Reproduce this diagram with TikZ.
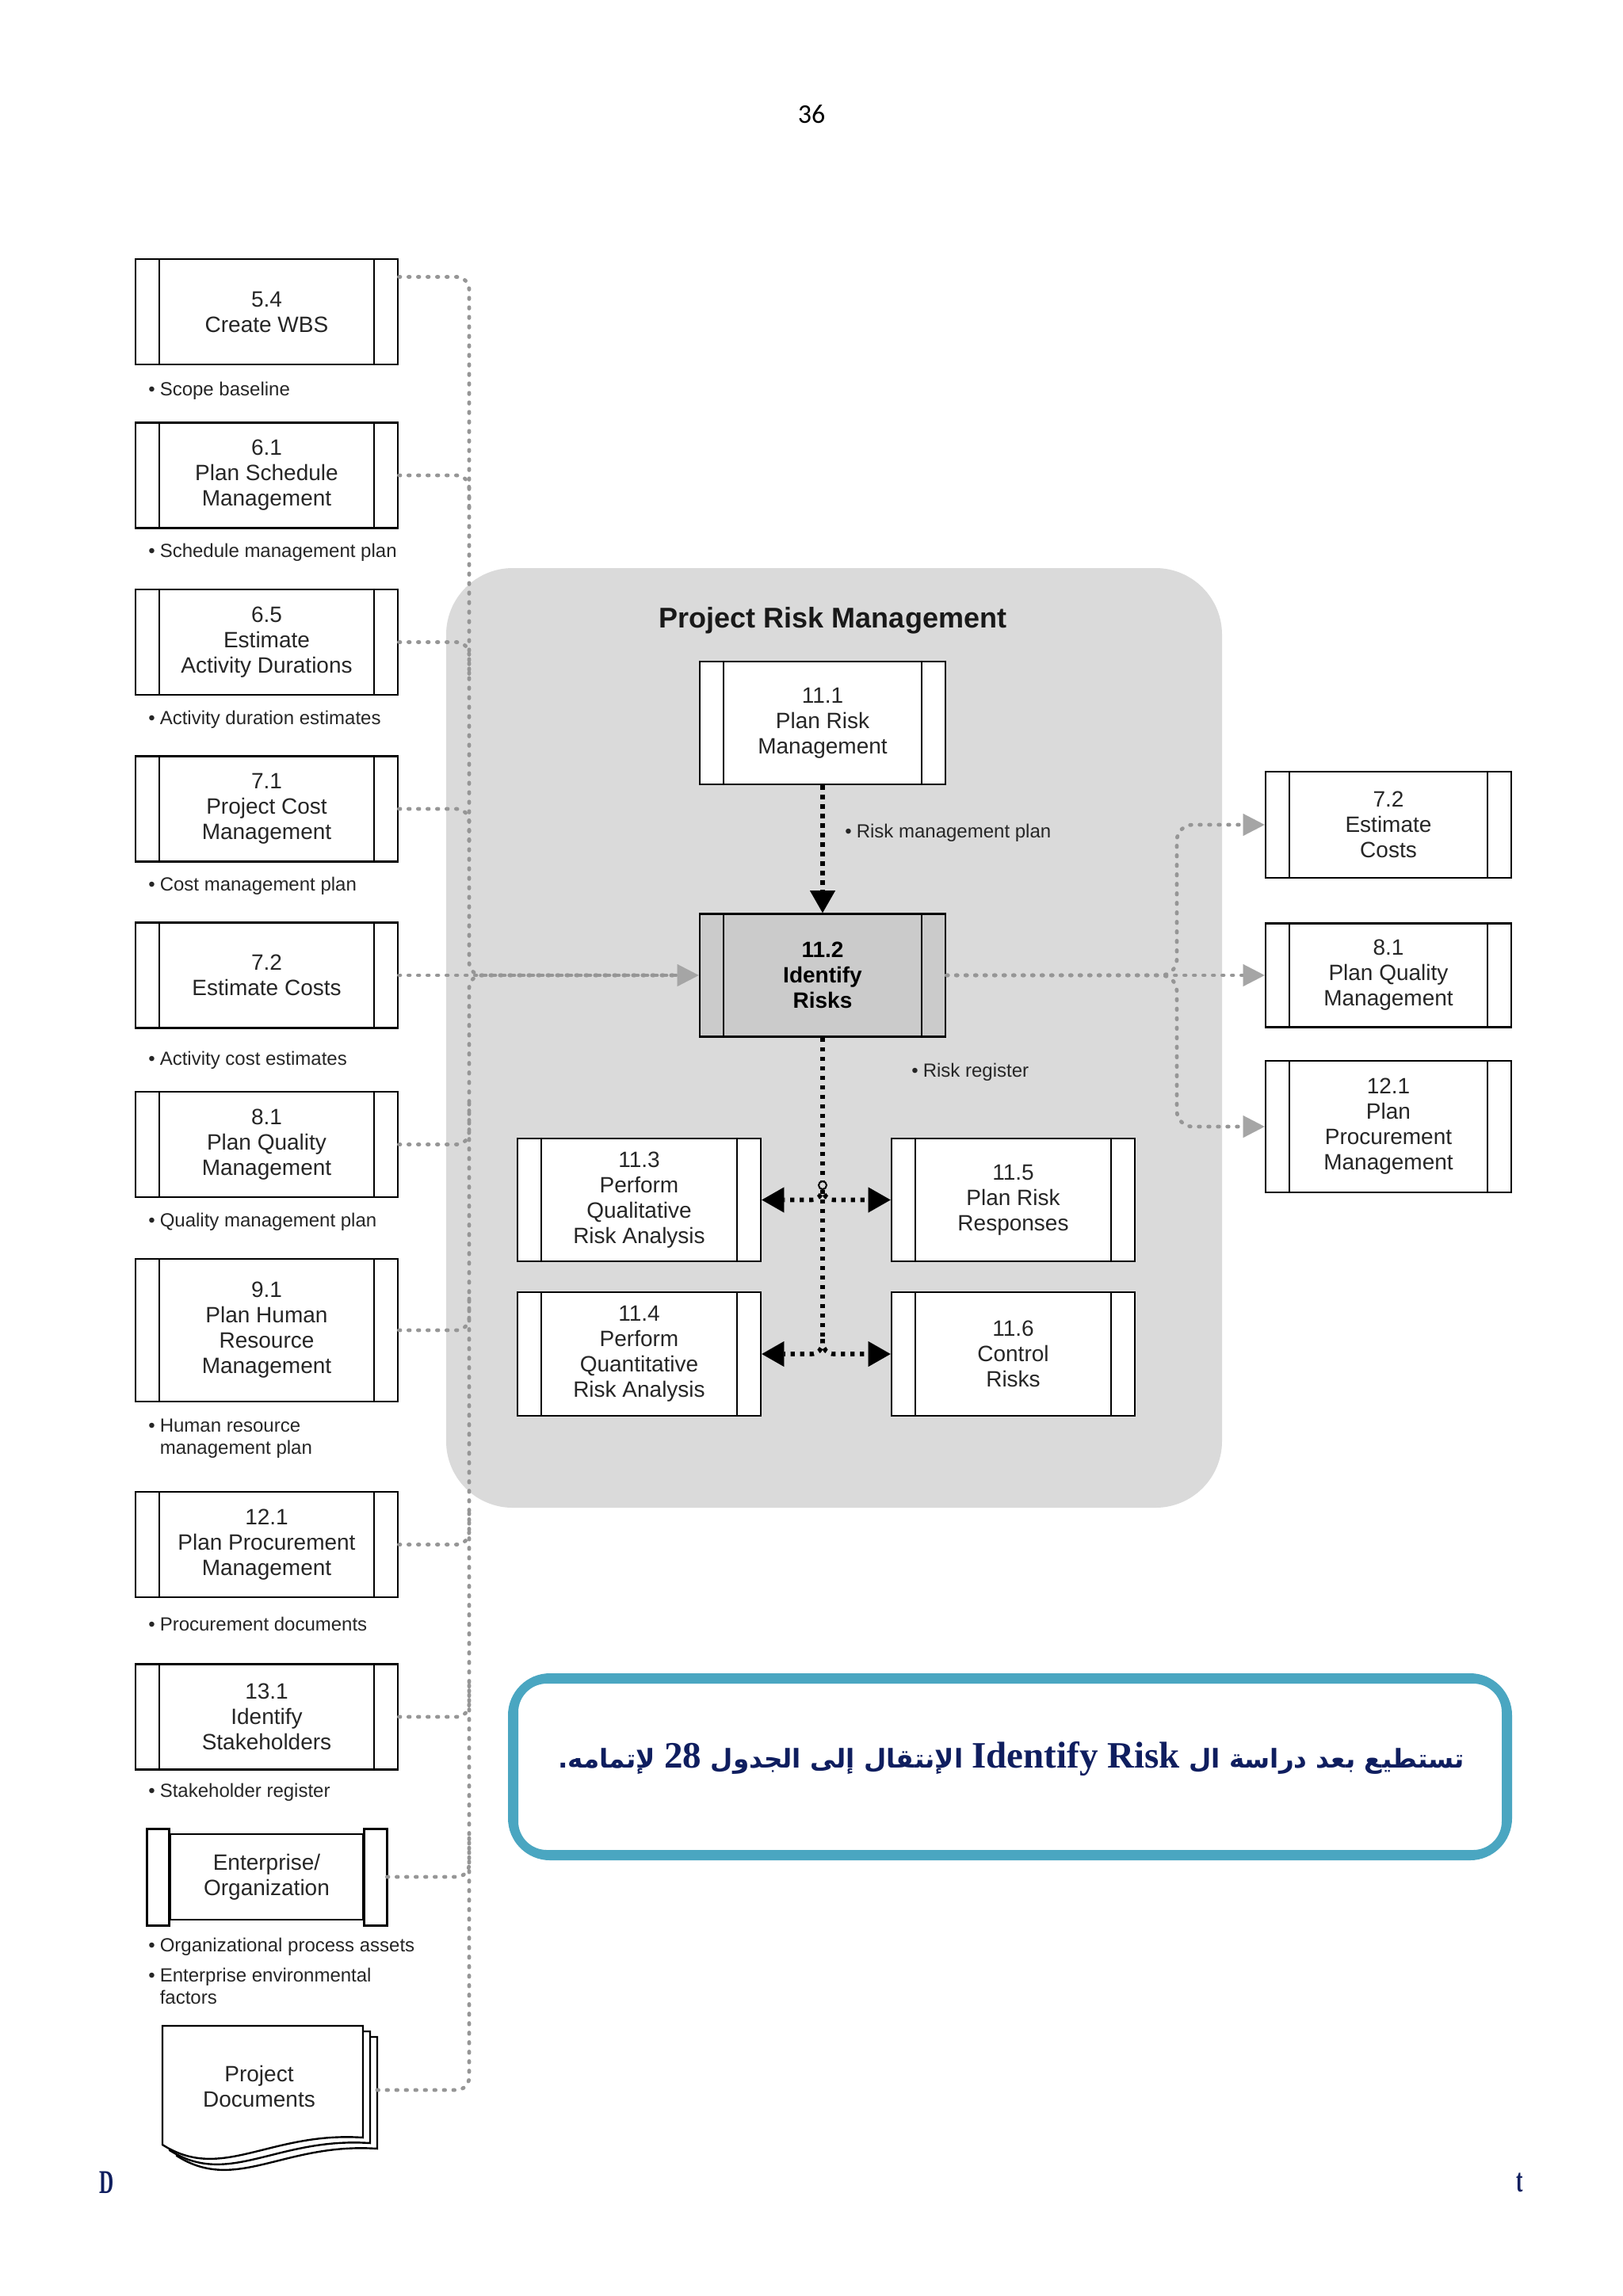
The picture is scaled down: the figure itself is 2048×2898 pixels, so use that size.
\documentclass[tikz,border=0pt]{standalone}
\usepackage{fontspec}
\setmainfont{Liberation Sans}
\newfontfamily\arabicfont[Script=Arabic]{DejaVu Sans}
\newfontfamily\latinserif{Liberation Serif}
\newfontfamily\footfont[FakeStretch=0.6]{Liberation Serif}
\newfontfamily\pagefont{Carlito}
\TeXXeTstate=1
\usetikzlibrary{arrows.meta}
\definecolor{zonegrey}{RGB}{218,218,218}
\definecolor{boxgrey}{RGB}{203,203,203}
\definecolor{dotgrey}{RGB}{150,150,150}
\definecolor{tipgrey}{RGB}{165,165,165}
\definecolor{tealc}{RGB}{74,166,193}
\definecolor{navy}{RGB}{15,30,95}
\tikzset{
  gtip/.tip={Triangle[length=13.5pt,width=14pt,color=tipgrey,line width=0.01pt]},
  btip/.tip={Triangle[length=14pt,width=16pt,line width=0.01pt]},
  gcon/.style={draw=dotgrey, line width=2.4pt, line cap=round, dash pattern=on 0.8pt off 5.2pt, rounded corners=8pt},
  bcon/.style={draw=black, line width=2.8pt, dash pattern=on 2.6pt off 3.4pt},
  proc/.style={draw, line width=1.4pt, fill=white, minimum width=165.5pt, minimum height=66.5pt,
    align=center, inner sep=0pt, text=black!85, font=\fontsize{14}{16}\selectfont,
    path picture={
      \draw[line width=1.4pt] ([xshift=15pt]path picture bounding box.north west) -- ([xshift=15pt]path picture bounding box.south west);
      \draw[line width=1.4pt] ([xshift=-15pt]path picture bounding box.north east) -- ([xshift=-15pt]path picture bounding box.south east);}},
  rproc/.style={proc, minimum width=155pt},
  cproc/.style={proc, minimum width=155pt, minimum height=77.5pt},
  lbl/.style={anchor=west, inner sep=0pt, text=black!85, font=\fontsize{12}{14}\selectfont, align=left},
  docpage/.style={draw, line width=1.2pt, fill=white},
  bandbox/.style={draw, line width=1.4pt, fill=white}
}
\begin{document}
\begin{tikzpicture}[x=0.5pt,y=-0.5pt]
\useasboundingbox (0,0) rectangle (2048,2898);
\fill[white] (0,0) rectangle (2048,2898);

% page number
\node[font=\pagefont\fontsize{17}{20}\selectfont] (pgnum) at (1024,144) {36};

% grey zone
\fill[zonegrey, rounded corners=42pt] (563,717) rectangle (1542,1903);
\node[font=\bfseries\fontsize{18}{20}\selectfont, text=black!90] (title) at (1051,783) {Project Risk Management};

% left column
\node[proc] (n54) at (336.5,393.5) {5.4\\Create WBS};
\node[proc] (n61) at (336.5,600) {6.1\\Plan Schedule\\Management};
\node[proc] (n65) at (336.5,810.5) {6.5\\Estimate\\Activity Durations};
\node[proc] (n71) at (336.5,1021) {7.1\\Project Cost\\Management};
\node[proc] (n72) at (336.5,1231) {7.2\\Estimate Costs};
\node[proc] (n81) at (336.5,1444.5) {8.1\\Plan Quality\\Management};
\node[proc, minimum height=90pt] (n91) at (336.5,1679) {9.1\\Plan Human\\Resource\\Management};
\node[proc] (n121) at (336.5,1949.5) {12.1\\Plan Procurement\\Management};
\node[proc] (n131) at (336.5,2167) {13.1\\Identify\\Stakeholders};

\node[lbl] (l54) at (187,493) {\textbullet\hspace{3pt}Scope baseline};
\node[lbl] (l61) at (187,697) {\textbullet\hspace{3pt}Schedule management plan};
\node[lbl] (l65) at (187,908) {\textbullet\hspace{3pt}Activity duration estimates};
\node[lbl] (l71) at (187,1118) {\textbullet\hspace{3pt}Cost management plan};
\node[lbl] (l72) at (187,1338) {\textbullet\hspace{3pt}Activity cost estimates};
\node[lbl] (l81) at (187,1542) {\textbullet\hspace{3pt}Quality management plan};
\node[lbl] (l91) at (187,1816) {\begin{tabular}{@{}l@{\hspace{3pt}}l@{}}\textbullet & Human resource\\ & management plan\end{tabular}};
\node[lbl] (l121) at (187,2050) {\textbullet\hspace{3pt}Procurement documents};
\node[lbl] (l131) at (187,2262) {\textbullet\hspace{3pt}Stakeholder register};
\node[lbl] (lopa) at (187,2457) {\textbullet\hspace{3pt}Organizational process assets};
\node[lbl] (leef) at (187,2510) {\begin{tabular}{@{}l@{\hspace{3pt}}l@{}}\textbullet & Enterprise environmental\\ & factors\end{tabular}};

% enterprise / organization
\node[draw, line width=1.4pt, fill=white, minimum width=121.5pt, minimum height=54pt, align=center, inner sep=0pt,
  text=black!85, font=\fontsize{14}{16}\selectfont] (ent) at (336.5,2369) {Enterprise/\\Organization};
\draw[bandbox] ([yshift=2.5pt]ent.north west) rectangle ([xshift=-14pt,yshift=-3pt]ent.south west);
\draw[bandbox] ([yshift=2.5pt]ent.north east) rectangle ([xshift=14.5pt,yshift=-3pt]ent.south east);

% project documents
\draw[docpage, shift={(18,14)}] (205,2557) -- (458,2557) -- (458,2698) .. controls (340,2690) and (280,2755) .. (205,2707) -- cycle;
\draw[docpage, shift={(9,7)}] (205,2557) -- (458,2557) -- (458,2698) .. controls (340,2690) and (280,2755) .. (205,2707) -- cycle;
\draw[docpage] (205,2557) -- (458,2557) -- (458,2698) .. controls (340,2690) and (280,2755) .. (205,2707) -- cycle;
\node[align=center, inner sep=0pt, text=black!85, font=\fontsize{14}{16}\selectfont] (pd) at (327,2633) {Project\\Documents};
\coordinate (pdx) at (476,2638);

% central process boxes
\node[cproc] (n111) at (1038,912.5) {11.1\\Plan Risk\\Management};
\node[cproc, fill=boxgrey, font=\bfseries\fontsize{14}{16}\selectfont, text=black] (n112) at (1038,1231) {11.2\\Identify\\Risks};
\node[cproc, minimum width=153.5pt] (n113) at (806.5,1514.5) {11.3\\Perform\\Qualitative\\Risk Analysis};
\node[cproc, minimum width=153.5pt] (n115) at (1278.5,1514.5) {11.5\\Plan Risk\\Responses};
\node[cproc, minimum width=153.5pt, minimum height=78pt] (n114) at (806.5,1709) {11.4\\Perform\\Quantitative\\Risk Analysis};
\node[cproc, minimum width=153.5pt, minimum height=78pt] (n116) at (1278.5,1709) {11.6\\Control\\Risks};

\node[lbl] (lrmp) at (1066,1051) {\textbullet\hspace{3pt}Risk management plan};
\node[lbl] (lrr) at (1150,1353) {\textbullet\hspace{3pt}Risk register};

% right column
\node[rproc, minimum height=67pt] (r72) at (1752,1041) {7.2\\Estimate\\Costs};
\node[rproc, minimum height=65.5pt] (r81) at (1752,1231) {8.1\\Plan Quality\\Management};
\node[rproc, minimum height=83pt] (r121) at (1752,1422) {12.1\\Plan\\Procurement\\Management};

% left connectors
\draw[gcon] ([yshift=22pt]n54.east) -| (592,1231) -- (n112.west);
\draw[gcon] (n61.east) -| (592,650);
\draw[gcon] (n65.east) -| (592,860);
\draw[gcon] (n71.east) -| (592,1070);
\draw[gcon] (n81.east) -| (592,1390);
\draw[gcon] (n91.east) -| (592,1630);
\draw[gcon] (n121.east) -| (592,1900);
\draw[gcon] (n131.east) -| (592,2120);
\draw[gcon] ([xshift=14.5pt]ent.east) -| (592,2320);
\draw[gcon] (pdx) -| (592,1231) -- (n112.west);
\draw[gcon, -{gtip}] (n72.east) -- (n112.west);

% right connectors
\draw[gcon, -{gtip}] (n112.east) -- (r81.west);
\draw[gcon, -{gtip}, rounded corners=10pt] (n112.east) -| (1485,1041) -- (r72.west);
\draw[gcon, -{gtip}, rounded corners=10pt] (n112.east) -| (1485,1422) -- (r121.west);

% black connectors
\coordinate (j1) at (1038,1496);
\coordinate (j2) at (1038,1690);
\draw[bcon, -{btip}] (n111.south) -- (n112.north);
\draw[bcon] (n112.south) -- (j2);
\draw[bcon, -{btip}, rounded corners=7pt] (j1) |- (n113.east);
\draw[bcon, -{btip}, rounded corners=7pt] (j1) |- (n115.west);
\draw[bcon, -{btip}, rounded corners=7pt] (j2) |- (n114.east);
\draw[bcon, -{btip}, rounded corners=7pt] (j2) |- (n116.west);
\node[circle, draw, line width=1pt, fill=zonegrey, inner sep=0pt, minimum size=5pt] (j1dot) at (j1) {};

% message box
\node[draw=tealc, line width=5pt, rounded corners=24pt, minimum width=628.5pt, minimum height=113pt] (msgbox) at (1274.5,2230) {};
\draw[tealc, line width=2pt, rounded corners=19pt] ([shift={(5.5pt,-5.5pt)}]msgbox.north west) rectangle ([shift={(-5.5pt,5.5pt)}]msgbox.south east);
\node[text=navy, inner sep=0pt] (msg) at (1276,2220) {\arabicfont\bfseries\fontsize{16.3}{20}\selectfont\beginR تستطيع بعد دراسة ال \beginL{\latinserif\bfseries\fontsize{23.5}{26}\selectfont Identify Risk}\endL{} الإنتقال إلى الجدول \beginL{\latinserif\bfseries\fontsize{23.5}{26}\selectfont 28}\endL{} لإتمامه.\endR};

% footer fragments
\node[font=\footfont\bfseries\fontsize{21}{24}\selectfont, text=navy] (ftl) at (135,2755) {D};
\node[font=\footfont\bfseries\fontsize{21}{24}\selectfont, text=navy] (ftr) at (1918,2755) {t};
\end{tikzpicture}
\end{document}
